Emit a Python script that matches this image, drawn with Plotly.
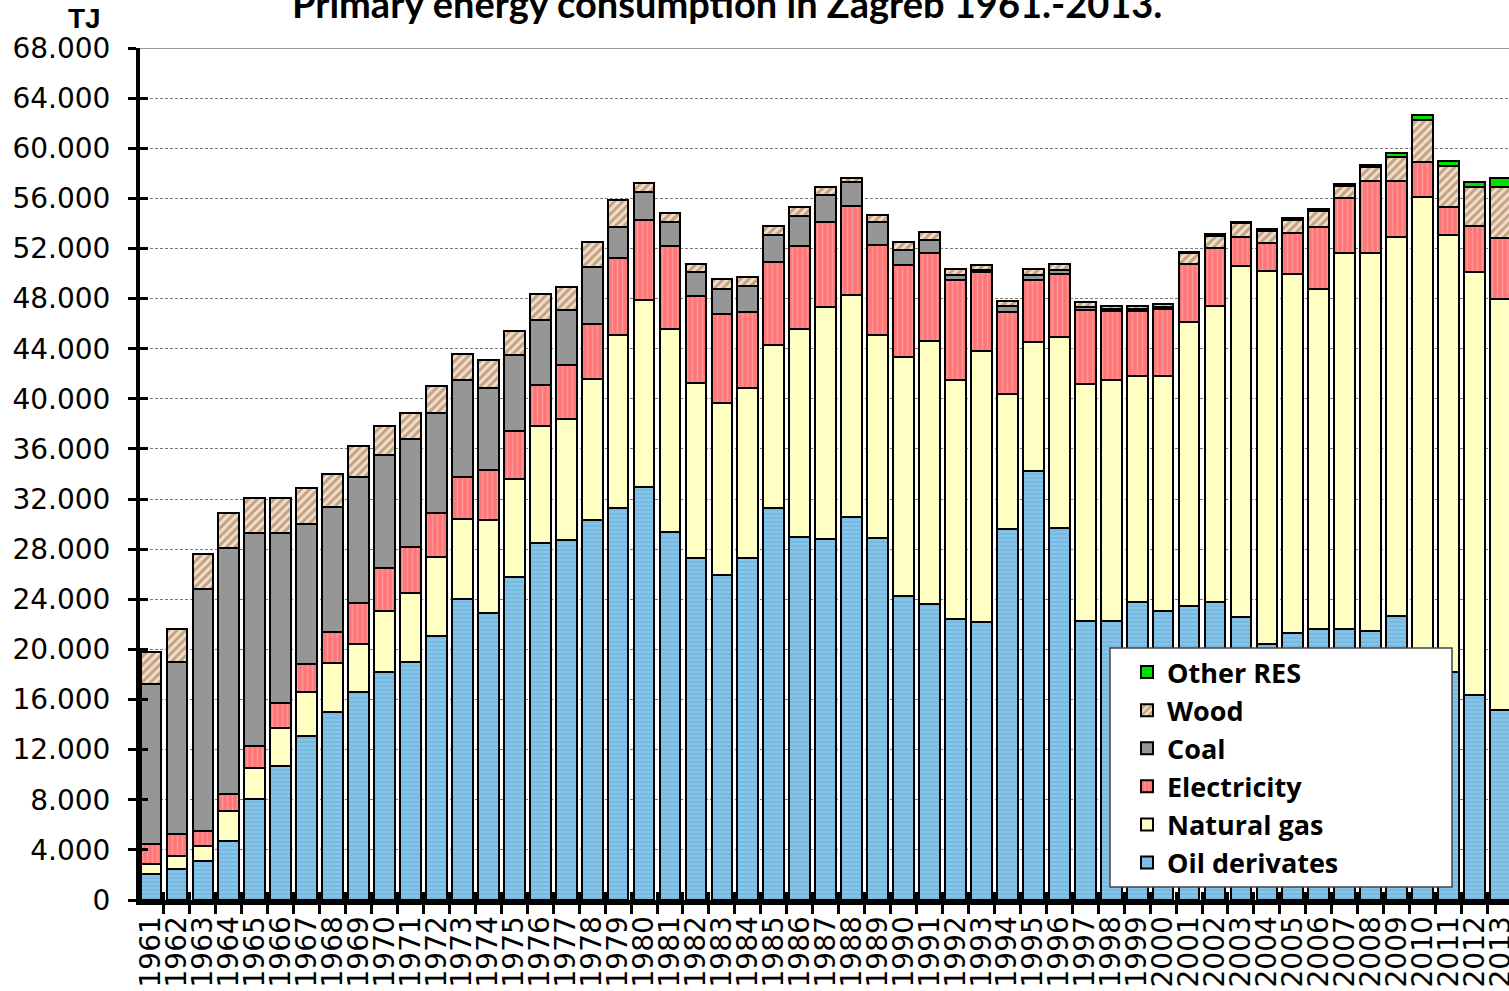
import plotly.graph_objects as go

years = [str(y) for y in range(1961, 2014)]

oil = [2.1, 2.5, 3.1, 4.7, 8.1, 10.7, 13.1, 15.0, 16.6, 18.2,
       19.0, 21.1, 24.0, 22.9, 25.8, 28.5, 28.7, 30.3, 31.3, 33.0,
       29.4, 27.3, 25.9, 27.3, 31.3, 29.0, 28.8, 30.6, 28.9, 24.3,
       23.6, 22.4, 22.2, 29.6, 34.2, 29.7, 22.3, 22.3, 23.8, 23.1,
       23.5, 23.8, 22.6, 20.4, 21.3, 21.6, 21.6, 21.5, 22.7, 19.0,
       18.2, 16.4, 15.2]
gas = [0.8, 1.0, 1.2, 2.4, 2.4, 3.0, 3.5, 3.9, 3.8, 4.9,
       5.5, 6.3, 6.4, 7.4, 7.8, 9.3, 9.7, 11.3, 13.8, 14.9,
       16.2, 14.0, 13.8, 13.6, 13.0, 16.6, 18.5, 17.7, 16.2, 19.0,
       21.0, 19.1, 21.6, 10.8, 10.3, 15.2, 18.9, 19.2, 18.0, 18.7,
       22.6, 23.6, 28.0, 29.8, 28.7, 27.2, 30.0, 30.1, 30.2, 37.1,
       34.9, 33.7, 32.8]
electricity = [1.6, 1.8, 1.2, 1.4, 1.8, 2.0, 2.2, 2.5, 3.3, 3.4,
               3.7, 3.5, 3.4, 4.0, 3.8, 3.3, 4.3, 4.4, 6.1, 6.4,
               6.6, 6.9, 7.1, 6.0, 6.6, 6.6, 6.8, 7.1, 7.2, 7.4,
               7.0, 8.0, 6.3, 6.55, 5.0, 5.1, 5.9, 5.5, 5.2, 5.4,
               4.7, 4.6, 2.3, 2.2, 3.2, 4.9, 4.4, 5.8, 4.5, 2.8,
               2.2, 3.7, 4.8]
coal = [12.7, 13.7, 19.3, 19.6, 17.0, 13.6, 11.2, 10.0, 10.1, 9.0,
        8.6, 8.0, 7.7, 6.6, 6.1, 5.2, 4.4, 4.5, 2.5, 2.2,
        1.9, 1.9, 2.0, 2.1, 2.2, 2.4, 2.2, 1.9, 1.8, 1.2,
        1.1, 0.4, 0.2, 0.45, 0.4, 0.3, 0.2, 0.15, 0.15, 0.15,
        0, 0, 0, 0, 0, 0, 0, 0, 0, 0,
        0, 0, 0]
wood = [2.6, 2.6, 2.8, 2.8, 2.8, 2.8, 2.9, 2.6, 2.4, 2.3,
        2.1, 2.1, 2.1, 2.2, 1.9, 2.1, 1.8, 2.0, 2.2, 0.7,
        0.7, 0.7, 0.8, 0.7, 0.7, 0.7, 0.6, 0.3, 0.6, 0.6,
        0.6, 0.5, 0.4, 0.4, 0.5, 0.5, 0.45, 0.25, 0.25, 0.25,
        0.8, 1.0, 1.1, 1.0, 1.1, 1.3, 1.0, 1.1, 1.9, 3.35,
        3.3, 3.1, 4.1]
other_res = [0] * 40 + [0.15, 0.15, 0.15, 0.15, 0.15, 0.15, 0.15, 0.15,
                        0.3, 0.4, 0.4, 0.4, 0.7]

y_ticks = list(range(0, 68001, 4000))


def tj(v):
    return [x * 1000 for x in v]


series = [
    ("Oil derivates", oil, dict(color="#86C3E6", pattern=dict(shape="-", fgcolor="#5AA6D6", bgcolor="#86C3E6", size=4, solidity=0.35))),
    ("Natural gas", gas, dict(color="#FFFFC4")),
    ("Electricity", electricity, dict(color="#FF7676", pattern=dict(shape="|", fgcolor="#FFB4B4", bgcolor="#FF7676", size=5, solidity=0.3))),
    ("Coal", coal, dict(color="#969696")),
    ("Wood", wood, dict(color="#F2DFCB", pattern=dict(shape="/", fgcolor="#93643C", bgcolor="#F2DFCB", size=6, solidity=0.5))),
    ("Other RES", other_res, dict(color="#00E000")),
]

fig = go.Figure()
n = len(series)
for i, (name, vals, mk) in enumerate(series):
    mk = dict(mk)
    mk["line"] = dict(color="black", width=2)
    fig.add_trace(go.Bar(x=years, y=tj(vals), name=name, marker=mk,
                         legendgroup=name, legendrank=n - i))

# helper trace for the inner half of the crossing tick marks
fig.add_trace(go.Scatter(x=years, y=[None] * len(years), xaxis="x2", yaxis="y2",
                         showlegend=False, hoverinfo="skip", mode="markers"))

X_RANGE = [-0.424, 52.33]
TICK_FONT = dict(size=28, family="DejaVu Sans")

fig.update_layout(
    width=1509, height=991,
    barmode="stack", bargap=0.2,
    separators=",.",
    plot_bgcolor="white", paper_bgcolor="white",
    margin=dict(l=140, r=0, t=48, b=91, autoexpand=False),
    font=dict(family="Liberation Sans, Arial", color="black"),
    showlegend=True,
    legend=dict(
        x=(1127 - 140) / 1369, y=(900 - 648) / 852, xanchor="left", yanchor="top",
        bgcolor="rgba(0,0,0,0)", borderwidth=0,
        traceorder="grouped", tracegroupgap=0,
        font=dict(family="Open Sans", size=27, color="black", weight="bold"),
    ),
    xaxis=dict(
        type="category", range=X_RANGE, automargin=False,
        tickmode="linear", dtick=1,
        tickangle=-90, tickfont=TICK_FONT,
        showline=True, linecolor="black", linewidth=5,
        ticks="outside", tickson="boundaries", ticklen=9, tickwidth=3, tickcolor="black",
        showgrid=False,
    ),
    yaxis=dict(
        range=[0, 68000], tickvals=y_ticks, tickformat=",d", automargin=False,
        tickfont=TICK_FONT,
        ticklabelstandoff=12,
        showline=True, linecolor="black", linewidth=4,
        ticks="outside", ticklen=8, tickwidth=3, tickcolor="black",
        showgrid=True, gridcolor="#7a7a7a", gridwidth=1, griddash="3px,2px",
        zeroline=False,
    ),
    xaxis2=dict(
        type="category", range=X_RANGE, overlaying="x", anchor="y2", side="bottom",
        automargin=False,
        ticks="inside", tickson="boundaries", ticklen=8, tickwidth=3, tickcolor="black",
        showticklabels=False, showgrid=False, showline=False, zeroline=False,
    ),
    yaxis2=dict(
        range=[0, 68000], tickvals=y_ticks, overlaying="y", anchor="x2", side="left",
        automargin=False,
        ticks="inside", ticklen=8, tickwidth=3, tickcolor="black",
        showticklabels=False, showgrid=False, showline=False, zeroline=False,
    ),
)

# top frame line at 68.000
fig.add_shape(type="line", xref="paper", yref="y", x0=0, x1=1, y0=68000, y1=68000,
              line=dict(color="#9a9a9a", width=2), layer="below")

# legend box
fig.add_shape(type="rect", xref="paper", yref="paper",
              x0=(1110 - 140) / 1369, x1=(1452 - 140) / 1369,
              y0=(900 - 887) / 852, y1=(900 - 648) / 852,
              fillcolor="white", line=dict(color="#444444", width=1.5), layer="above")

fig.add_annotation(text="<b>TJ</b>", xref="paper", yref="paper",
                   x=(84 - 140) / 1369, y=(900 - 18) / 852,
                   showarrow=False, font=dict(size=28, family="Liberation Sans"),
                   xanchor="center", yanchor="middle")
fig.add_annotation(text="<b>Primary energy consumption in Zagreb 1961.-2013.</b>",
                   xref="paper", yref="paper", x=(727 - 140) / 1369, y=(900 - 28) / 852,
                   showarrow=False, font=dict(size=38, family="Lato"),
                   xanchor="center", yanchor="bottom")

fig.write_html("out.html", config={"displayModeBar": False},
               post_script="document.body.style.margin='0px';")
